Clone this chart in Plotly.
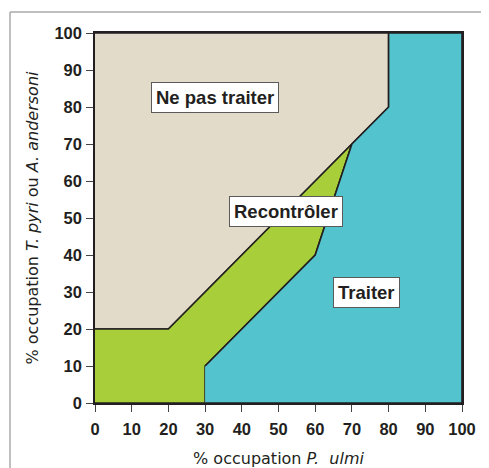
import plotly.graph_objects as go

# Zones (vertices in % occupation)
ne_pas_x = [0, 20, 70, 80, 80, 0]
ne_pas_y = [20, 20, 70, 80, 100, 100]
recontr_x = [0, 30, 30, 60, 70, 20, 0]
recontr_y = [0, 0, 10, 40, 70, 20, 20]
traiter_x = [30, 100, 100, 80, 80, 70, 60, 30]
traiter_y = [0, 0, 100, 100, 80, 70, 40, 10]

labels = ["Ne pas traiter", "Recontrôler", "Traiter"]
label_x = [32.6, 52, 74]
label_y = [82.7, 51.8, 29.9]

ticks = [0, 10, 20, 30, 40, 50, 60, 70, 80, 90, 100]

ink = "#231f20"
fig = go.Figure()
for xs, ys, col in [(ne_pas_x, ne_pas_y, "#e2dbca"),
                    (recontr_x, recontr_y, "#a8ce3a"),
                    (traiter_x, traiter_y, "#53c3ce")]:
    fig.add_trace(go.Scatter(x=xs, y=ys, fill="toself", fillcolor=col, mode="lines",
                             line=dict(color=ink, width=1.6), hoverinfo="skip",
                             showlegend=False))

for t, x, y in zip(labels, label_x, label_y):
    fig.add_annotation(x=x, y=y, text="<b>%s</b>" % t, showarrow=False,
                       font=dict(family="Liberation Sans, Arial", size=18.5, color=ink),
                       bgcolor="white", bordercolor="#5a5a5a", borderwidth=1, borderpad=4)

axis_common = dict(range=[0, 100], tickvals=ticks, ticks="outside", ticklen=7,
                   tickcolor="#444", tickwidth=1, showline=True, linecolor=ink,
                   linewidth=1.5, mirror=True, showgrid=False, zeroline=False,
                   automargin=False,
                   tickfont=dict(family="Liberation Sans, Arial", size=16.5, color=ink,
                                 weight="bold"))

fig.update_xaxes(**axis_common, ticklabelstandoff=3,
                 title=dict(text="% occupation <i>P.  ulmi</i>",
                            font=dict(family="DejaVu Sans", size=16, color=ink),
                            standoff=16))
fig.update_yaxes(**axis_common, ticklabelstandoff=1,
                 title=dict(text="% occupation <i>T. pyri</i> ou <i>A. andersoni</i>",
                            font=dict(family="DejaVu Sans", size=16, color=ink),
                            standoff=12))

# outer gray frame
fig.add_shape(type="line", xref="paper", yref="paper", x0=-0.2316, x1=1.2, y0=1.0568, y1=1.0568,
              line=dict(color="#aaaaaa", width=1.5))
fig.add_shape(type="line", xref="paper", yref="paper", x0=-0.2316, x1=-0.2316, y0=1.0568, y1=-0.2,
              line=dict(color="#aaaaaa", width=1.5))

fig.update_layout(width=481, height=460, margin=dict(l=87, r=27, t=25, b=65),
                  paper_bgcolor="white", plot_bgcolor="white")
fig.write_html("out.html")
